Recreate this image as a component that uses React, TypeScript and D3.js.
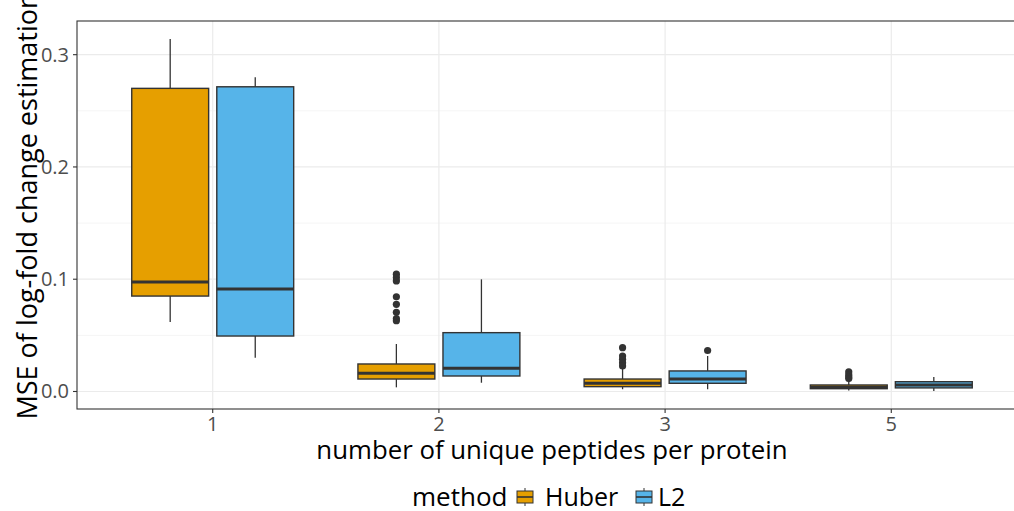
import React from "react";
import * as d3 from "d3";

// number of unique peptides per protein
const categories = ["1", "2", "3", "5"];
const methods = ["Huber", "L2"];
const methodColors = ["#E69F00", "#56B4E9"];

// Box statistics per category: [lowerWhisker, q1, median, q3, upperWhisker]
const huberStats = [
  [0.062, 0.085, 0.0975, 0.270, 0.314],
  [0.0037, 0.0111, 0.0162, 0.0245, 0.0423],
  [0.002, 0.0043, 0.0073, 0.0111, 0.0207],
  [0.0008, 0.0025, 0.0038, 0.0058, 0.0085],
];
const l2Stats = [
  [0.030, 0.0494, 0.0913, 0.2714, 0.280],
  [0.0078, 0.0138, 0.0207, 0.0524, 0.0999],
  [0.002, 0.0073, 0.0111, 0.0183, 0.0316],
  [0.0004, 0.0032, 0.0058, 0.0087, 0.013],
];

// Outlying proteins per category
const huberOutliers = [
  [],
  [0.1045, 0.1015, 0.0985, 0.0844, 0.0776, 0.0705, 0.0650, 0.0630],
  [0.039, 0.0316, 0.0287, 0.0256, 0.0227],
  [0.0175, 0.015, 0.013, 0.0115],
];
const l2Outliers = [[], [], [0.0365], []];

const yTicks = [0, 0.1, 0.2, 0.3];
const yMinorTicks = [0.05, 0.15, 0.25];

const W = 1014;
const H = 511;
const margin = { left: 77, top: 21, right: -13, bottom: 102 };
const FONT = "'Open Sans', 'Noto Sans', sans-serif";

export default function App() {
  const x0 = margin.left;
  const x1 = W - margin.right;
  const y0 = margin.top;
  const y1 = H - margin.bottom;

  const xScale = d3
    .scalePoint<string>()
    .domain(categories)
    .range([x0, x1])
    .padding(0.6);
  const step = xScale.step();

  const yScale = d3.scaleLinear().domain([-0.0156, 0.330]).range([y1, y0]);

  const boxWidth = step * 0.34;
  const dodge = step * 0.188;

  const statsByMethod = [huberStats, l2Stats];
  const outliersByMethod = [huberOutliers, l2Outliers];
  const stroke = "#333333";

  return (
    <svg
      width={W}
      height={H}
      style={{ position: "absolute", left: 0, top: 0, background: "#fff" }}
      fontFamily={FONT}
    >
      <defs>
        <clipPath id="panel">
          <rect x={x0} y={y0} width={x1 - x0} height={y1 - y0} />
        </clipPath>
      </defs>
      <rect x={0} y={0} width={W} height={H} fill="#fff" />
      <g clipPath="url(#panel)">
        {yMinorTicks.map((t) => (
          <line key={"m" + t} x1={x0} x2={x1} y1={yScale(t)} y2={yScale(t)} stroke="#F2F2F2" strokeWidth={0.8} />
        ))}
        {yTicks.map((t) => (
          <line key={"g" + t} x1={x0} x2={x1} y1={yScale(t)} y2={yScale(t)} stroke="#EBEBEB" strokeWidth={1.2} />
        ))}
        {categories.map((c) => (
          <line key={"gx" + c} x1={xScale(c)} x2={xScale(c)} y1={y0} y2={y1} stroke="#EBEBEB" strokeWidth={1.2} />
        ))}
        {categories.map((c, ci) =>
          methods.map((m, mi) => {
            const [lw, q1, med, q3, uw] = statsByMethod[mi][ci];
            const cx = (xScale(c) as number) + (mi === 0 ? -dodge : dodge);
            return (
              <g key={c + m}>
                <line x1={cx} x2={cx} y1={yScale(q3)} y2={yScale(uw)} stroke={stroke} strokeWidth={1.3} />
                <line x1={cx} x2={cx} y1={yScale(q1)} y2={yScale(lw)} stroke={stroke} strokeWidth={1.3} />
                <rect
                  x={cx - boxWidth / 2}
                  y={yScale(q3)}
                  width={boxWidth}
                  height={Math.max(yScale(q1) - yScale(q3), 1)}
                  fill={methodColors[mi]}
                  stroke={stroke}
                  strokeWidth={1.4}
                />
                <line
                  x1={cx - boxWidth / 2}
                  x2={cx + boxWidth / 2}
                  y1={yScale(med)}
                  y2={yScale(med)}
                  stroke={stroke}
                  strokeWidth={3}
                />
                {outliersByMethod[mi][ci].map((v, i) => (
                  <circle key={i} cx={cx} cy={yScale(v)} r={3.6} fill={stroke} />
                ))}
              </g>
            );
          })
        )}
      </g>
      <rect x={x0} y={y0} width={x1 - x0} height={y1 - y0} fill="none" stroke="#333333" strokeWidth={1.1} />

      {/* y axis */}
      {yTicks.map((t) => (
        <g key={"yt" + t}>
          <line x1={x0 - 4} x2={x0} y1={yScale(t)} y2={yScale(t)} stroke="#333" strokeWidth={1.1} />
          <text x={x0 - 8} y={yScale(t)} dy="0.35em" textAnchor="end" fontSize={20} fill="#4D4D4D">
            {d3.format(".1f")(t)}
          </text>
        </g>
      ))}
      <text
        transform={`translate(37, 206) rotate(-90)`}
        textAnchor="middle"
        fontSize={27}
        fill="#000"
      >
        MSE of log-fold change estimation
      </text>

      {/* x axis */}
      {categories.map((c) => (
        <g key={"xt" + c}>
          <line x1={xScale(c)} x2={xScale(c)} y1={y1} y2={y1 + 4} stroke="#333" strokeWidth={1.1} />
          <text x={xScale(c)} y={y1 + 22} textAnchor="middle" fontSize={20} fill="#4D4D4D">
            {c}
          </text>
        </g>
      ))}
      <text x={(x0 + x1) / 2} y={y1 + 50} textAnchor="middle" fontSize={25.8} fill="#000">
        number of unique peptides per protein
      </text>

      {/* legend */}
      <g transform="translate(0, 497)">
        <text x={412} y={0} dy="0.35em" fontSize={26} fill="#000">method</text>
        {methods.map((m, i) => {
          const kx = i === 0 ? 517 : 636;
          const tx = i === 0 ? 545 : 658;
          return (
            <g key={"lg" + m}>
              <line x1={kx + 8} x2={kx + 8} y1={-9} y2={9} stroke={stroke} strokeWidth={1} />
              <rect x={kx} y={-6} width={16} height={12} fill={methodColors[i]} stroke={stroke} strokeWidth={1} />
              <line x1={kx} x2={kx + 16} y1={0} y2={0} stroke={stroke} strokeWidth={1.6} />
              <text x={tx} y={0} dy="0.35em" fontSize={25} fill="#000">{m}</text>
            </g>
          );
        })}
      </g>
    </svg>
  );
}
